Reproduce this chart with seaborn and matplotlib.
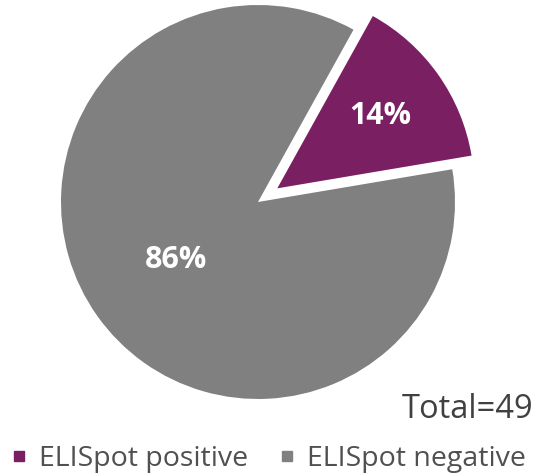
import matplotlib
matplotlib.use("Agg")
import matplotlib.pyplot as plt
import seaborn as sns
import numpy as np
from matplotlib.lines import Line2D

categories = ["ELISpot positive", "ELISpot negative"]
counts = [7, 42]
pct_labels = ["14%", "86%"]
total_label = "Total=49"

sns.set_theme(style="white")
plt.rcParams['font.family'] = ['Open Sans', 'DejaVu Sans']
colors = sns.color_palette(["#7A1F62", "#808080"])

W, H = 544, 474
fig = plt.figure(figsize=(W / 100, H / 100), dpi=100)
ax = fig.add_axes([0, 0, 1, 1])

R = 197.0
cx, cy = 258.0, 202.0
wedges, _ = ax.pie(counts, colors=colors, startangle=61, counterclock=False,
                   explode=[0.12, 0], radius=1.0, wedgeprops=dict(linewidth=0))
ax.set_xlim(-cx / R, (W - cx) / R)
ax.set_ylim(-(H - cy) / R, cy / R)
ax.set_aspect('auto')
ax.axis('off')

dists = [0.64, 0.51]
for w, lab, d in zip(wedges, pct_labels, dists):
    ang = np.deg2rad((w.theta1 + w.theta2) / 2)
    x = w.center[0] + d * np.cos(ang)
    y = w.center[1] + d * np.sin(ang)
    ax.text(x, y, lab, ha='center', va='center', color='white',
            fontsize=22, fontweight='bold')

fig.text(533 / W, 1 - 409 / H, total_label, ha='right', va='center',
         fontsize=23.5, color='#404040')

handles = [Line2D([], [], marker='s', linestyle='none', markersize=7,
                  markerfacecolor=c, markeredgecolor=c) for c in colors]
leg = fig.legend(handles, categories, loc='center', ncol=2,
                 bbox_to_anchor=(269 / W, 1 - 459 / H), frameon=False,
                 fontsize=20.5, handlelength=0.5, handletextpad=0.45,
                 columnspacing=1.1, borderaxespad=0)
for t in leg.get_texts():
    t.set_color('#505050')

fig.savefig("out.png", dpi=100)
